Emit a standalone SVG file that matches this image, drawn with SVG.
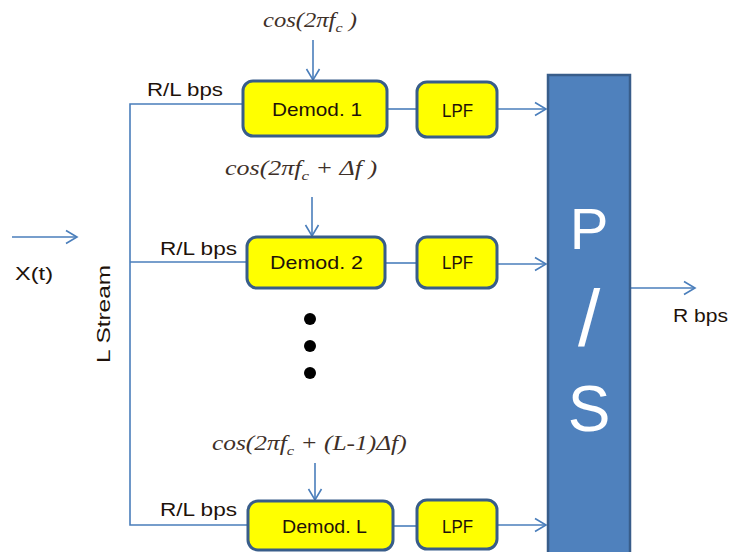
<svg xmlns="http://www.w3.org/2000/svg" width="731" height="552" viewBox="0 0 731 552">
  <defs>
    <marker id="chev" markerUnits="userSpaceOnUse" markerWidth="14" markerHeight="16" refX="12" refY="8" orient="auto">
      <path d="M1,1.5 L12,8 L1,14.5" fill="none" stroke="#4a7ebb" stroke-width="1.6"/>
    </marker>
    <style>
      .wire { stroke: #4a7ebb; stroke-width: 1.6; fill: none; }
      .arrow { stroke: #4a7ebb; stroke-width: 1.6; fill: none; marker-end: url(#chev); }
      .box { fill: #ffff00; stroke: #385d8a; stroke-width: 3; }
      .lbl { font-family: "Liberation Sans", Arial, sans-serif; font-size: 19px; fill: #1e120a; }
      .cos { font-family: "Liberation Serif", "Times New Roman", serif; font-style: italic; font-size: 20px; fill: #3e3028; }
      .ps { font-family: "Liberation Sans", Arial, sans-serif; fill: #ffffff; text-anchor: middle; }
    </style>
  </defs>

  <!-- connectors -->
  <g id="connectors">
    <line class="arrow" x1="12" y1="237" x2="77" y2="237"/>
    <polyline class="wire" points="243,104 130,104 130,525 248,525"/>
    <line class="wire" x1="130" y1="262" x2="247" y2="262"/>
    <line class="arrow" x1="313" y1="40" x2="313" y2="80"/>
    <line class="arrow" x1="312" y1="197" x2="312" y2="236"/>
    <line class="arrow" x1="315" y1="463" x2="315" y2="500"/>
    <line class="wire" x1="387" y1="109" x2="417" y2="109"/>
    <line class="wire" x1="385" y1="263" x2="417" y2="263"/>
    <line class="wire" x1="393" y1="526" x2="417" y2="526"/>
    <line class="arrow" x1="497" y1="109" x2="546" y2="109"/>
    <line class="arrow" x1="497" y1="264" x2="546" y2="264"/>
    <line class="arrow" x1="497" y1="525" x2="546" y2="525"/>
    <line class="arrow" x1="630" y1="288" x2="695" y2="288"/>
  </g>

  <!-- input and stream labels -->
  <g id="input">
    <text class="lbl" x="15" y="280" textLength="38" lengthAdjust="spacingAndGlyphs">X(t)</text>
    <text class="lbl" font-size="20" transform="translate(110,363) rotate(-90)" textLength="98" lengthAdjust="spacingAndGlyphs">L Stream</text>
    <text class="lbl" x="147" y="96" textLength="76" lengthAdjust="spacingAndGlyphs">R/L bps</text>
    <text class="lbl" x="160" y="255" textLength="77" lengthAdjust="spacingAndGlyphs">R/L bps</text>
    <text class="lbl" x="160" y="516" textLength="77" lengthAdjust="spacingAndGlyphs">R/L bps</text>
  </g>

  <!-- carrier labels -->
  <g id="carrier1" transform="translate(263,27) scale(1.23,1)">
    <text class="cos" x="0" y="0">cos(2πf<tspan font-size="13" dy="5">c</tspan><tspan dy="-5"> )</tspan></text>
  </g>
  <g id="carrier2" transform="translate(225,175) scale(1.3,1)">
    <text class="cos" x="0" y="0">cos(2πf<tspan font-size="13" dy="5">c</tspan><tspan dy="-5"> + Δf )</tspan></text>
  </g>
  <g id="carrierL" transform="translate(212,450) scale(1.27,1)">
    <text class="cos" x="0" y="0">cos(2πf<tspan font-size="13" dy="5">c</tspan><tspan dy="-5"> + (L-1)Δf)</tspan></text>
  </g>

  <!-- branch 1 -->
  <g id="demod1">
    <rect class="box" x="243" y="81" width="144" height="55" rx="10"/>
    <text class="lbl" x="272" y="116" textLength="90" lengthAdjust="spacingAndGlyphs">Demod. 1</text>
  </g>
  <g id="lpf1">
    <rect class="box" x="417" y="82" width="80" height="55" rx="10"/>
    <text class="lbl" x="442" y="117" textLength="31" lengthAdjust="spacingAndGlyphs">LPF</text>
  </g>

  <!-- branch 2 -->
  <g id="demod2">
    <rect class="box" x="247" y="237" width="138" height="51" rx="10"/>
    <text class="lbl" x="270" y="269" textLength="93" lengthAdjust="spacingAndGlyphs">Demod. 2</text>
  </g>
  <g id="lpf2">
    <rect class="box" x="417" y="237" width="80" height="51" rx="10"/>
    <text class="lbl" x="442" y="269" textLength="31" lengthAdjust="spacingAndGlyphs">LPF</text>
  </g>

  <!-- elided branches -->
  <g id="ellipsis" fill="#000000">
    <circle cx="310" cy="319" r="6"/>
    <circle cx="310" cy="346" r="6"/>
    <circle cx="310" cy="373" r="6"/>
  </g>

  <!-- branch L -->
  <g id="demodL">
    <rect class="box" x="248" y="501" width="145" height="49" rx="10"/>
    <text class="lbl" x="282" y="533" textLength="85" lengthAdjust="spacingAndGlyphs">Demod. L</text>
  </g>
  <g id="lpfL">
    <rect class="box" x="417" y="500" width="80" height="49" rx="10"/>
    <text class="lbl" x="442" y="533" textLength="31" lengthAdjust="spacingAndGlyphs">LPF</text>
  </g>

  <!-- parallel to serial converter -->
  <g id="ps">
    <rect x="548" y="75" width="82" height="490" fill="#4f81bd" stroke="#385d8a" stroke-width="2.5"/>
    <text class="ps" x="589" y="249" font-size="58">P</text>
    <text class="ps" x="589" y="346" font-size="80">/</text>
    <text class="ps" x="589" y="431" font-size="64">S</text>
  </g>

  <g id="output">
    <text class="lbl" x="673" y="322" textLength="55" lengthAdjust="spacingAndGlyphs">R bps</text>
  </g>
</svg>
